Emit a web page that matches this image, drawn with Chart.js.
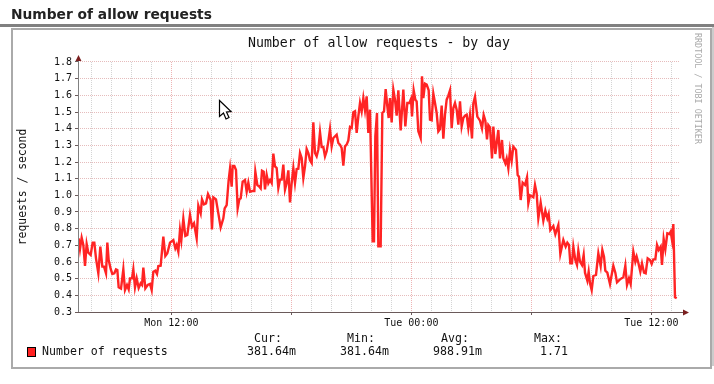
<!DOCTYPE html>
<html>
<head>
<meta charset="utf-8">
<style>
html,body{margin:0;padding:0;background:#fff;width:714px;height:384px;overflow:hidden}
#wrap{position:relative;width:714px;height:384px}
canvas{position:absolute;left:0;top:0}
.t{position:absolute;white-space:pre;font-family:"DejaVu Sans Mono",monospace;color:#111;line-height:1}
#head{left:11px;top:7px;font:bold 13.8px "DejaVu Sans",sans-serif;color:#222;line-height:1.1}
#rule{position:absolute;left:0;top:24px;width:714px;height:3px;background:#808080}
#frame{position:absolute;left:11px;top:28px;width:697px;height:337px;border:2px solid #aaa}
#edge{position:absolute;left:712px;top:27px;width:2px;height:339px;background:#ccc}
#wm{position:absolute;left:694px;top:33px;writing-mode:vertical-rl;font:8.4px "DejaVu Sans Mono",monospace;color:#aaa;white-space:pre;line-height:1}
#sw{position:absolute;left:27px;top:347px;width:7px;height:8px;border:1px solid #000;background:#ff2020}
.s{font-size:11.6px}
</style>
</head>
<body>
<div id="wrap">
<div id="rule"></div><div id="frame"></div><div id="edge"></div>
<canvas id="c" width="714" height="384"></canvas>
<div class="t" id="head">Number of allow requests</div>
<div id="wm">RRDTOOL / TOBI OETIKER</div>
<div id="sw"></div>
<div class="t s" style="left:42px;top:346px">Number of requests</div>
<div class="t s" style="left:254px;top:333px">Cur:</div>
<div class="t s" style="left:347px;top:333px">Min:</div>
<div class="t s" style="left:441px;top:333px">Avg:</div>
<div class="t s" style="left:534px;top:333px">Max:</div>
<div class="t s" style="left:247px;top:346px">381.64m</div>
<div class="t s" style="left:340px;top:346px">381.64m</div>
<div class="t s" style="left:433px;top:346px">988.91m</div>
<div class="t s" style="left:540px;top:346px">1.71</div>
<svg style="position:absolute;left:215px;top:98px" width="20" height="26"><path d="M4.5 2.5 L4.5 18.5 L8.5 15 L11 21 L14 19.5 L11.5 14 L16 13.5 Z" fill="#fff" stroke="#000" stroke-width="1.2"/></svg>
</div>
<script src="https://cdn.jsdelivr.net/npm/chart.js@4"></script>
<script>
const chartTitle = "Number of allow requests - by day";
const yAxisTitle = "requests / second";
const seriesName = "Number of requests";
const tickLabels = {720:"Mon 12:00",1440:"Tue 00:00",2160:"Tue 12:00"};
const minutes = [442,446,451,456,461,466,471,478,484,489,494,501,507,513,518,524,528,532,538,543,549,554,558,562,569,576,581,587,592,596,602,606,611,616,622,628,632,636,642,649,656,661,666,672,677,681,688,696,702,708,716,726,732,736,741,746,750,756,762,768,776,782,788,796,801,808,812,818,824,830,838,842,846,854,861,868,876,880,886,892,896,901,904,909,914,919,924,928,934,941,946,951,956,963,969,972,978,984,988,992,997,1001,1006,1011,1016,1021,1026,1031,1036,1041,1046,1051,1056,1061,1066,1071,1076,1081,1086,1091,1096,1101,1106,1111,1116,1121,1126,1131,1136,1141,1146,1151,1156,1161,1166,1171,1176,1181,1186,1191,1196,1201,1206,1216,1221,1226,1231,1236,1241,1246,1251,1256,1261,1266,1271,1276,1281,1286,1291,1296,1301,1306,1311,1316,1324,1328,1332,1337,1341,1348,1353,1358,1363,1368,1372,1376,1381,1386,1391,1396,1401,1408,1416,1422,1428,1434,1439,1442,1447,1452,1456,1461,1468,1472,1476,1481,1486,1492,1496,1501,1506,1511,1516,1521,1526,1531,1536,1541,1546,1551,1556,1561,1566,1571,1576,1581,1586,1591,1596,1601,1606,1611,1616,1622,1626,1631,1638,1646,1652,1657,1662,1667,1671,1676,1682,1686,1692,1701,1706,1712,1716,1722,1726,1731,1736,1741,1746,1754,1759,1763,1768,1774,1781,1787,1791,1796,1806,1811,1816,1821,1828,1836,1842,1848,1852,1857,1866,1872,1881,1887,1896,1903,1908,1913,1917,1922,1926,1932,1937,1941,1946,1952,1957,1961,1968,1972,1976,1981,1986,1994,2001,2008,2013,2018,2022,2028,2036,2046,2052,2057,2066,2076,2082,2087,2093,2098,2106,2112,2116,2121,2127,2132,2138,2143,2149,2156,2161,2166,2172,2177,2182,2188,2192,2197,2202,2208,2214,2218,2222,2226,2231,2236];
const requests = [.742,.678,.746,.702,.576,.708,.656,.642,.716,.716,.622,.532,.692,.572,.572,.532,.716,.612,.558,.528,.532,.556,.552,.448,.44,.556,.432,.462,.436,.502,.502,.556,.448,.502,.444,.472,.462,.566,.442,.462,.468,.432,.542,.548,.528,.576,.578,.752,.636,.652,.716,.732,.682,.702,.662,.792,.732,.86,.756,.762,.882,.812,.832,.742,.938,.892,.976,.946,.952,1.008,.972,.796,.988,.976,.892,.808,.862,.922,.942,1.092,1.16,1.052,1.176,1.176,1.152,.922,.976,.982,1.082,1.092,1.022,1.076,1.022,1.026,1.026,1.142,1.062,1.052,1.042,1.148,1.142,1.036,1.122,1.072,1.092,1.074,1.25,1.174,1.164,1.044,1.094,1.094,1.184,1.034,1.074,1.15,.958,1.074,1.164,1.074,1.158,1.16,1.254,1.224,1.104,1.174,1.278,1.254,1.21,1.194,1.438,1.254,1.234,1.274,1.378,1.29,1.29,1.234,1.264,1.324,1.398,1.294,1.344,1.364,1.314,1.304,1.284,1.178,1.294,1.304,1.33,1.41,1.404,1.498,1.504,1.374,1.474,1.554,1.504,1.584,1.51,1.594,1.374,1.514,.724,.724,1.354,1.494,.694,.694,1.494,1.504,1.638,1.534,1.464,1.584,1.438,1.634,1.574,1.478,1.63,1.39,1.634,1.414,1.554,1.554,1.578,1.474,1.63,1.574,1.564,1.384,1.344,1.714,1.584,1.67,1.664,1.63,1.454,1.45,1.61,1.554,1.494,1.384,1.398,1.538,1.34,1.484,1.574,1.598,1.63,1.404,1.524,1.554,1.514,1.424,1.564,1.414,1.464,1.478,1.484,1.404,1.482,1.342,1.552,1.592,1.472,1.448,1.402,1.482,1.448,1.336,1.422,1.408,1.222,1.412,1.248,1.392,1.222,1.332,1.222,1.192,1.222,1.162,1.272,1.208,1.292,1.272,1.122,1.112,.972,1.076,1.062,1.108,.952,1.0,.988,1.062,1.012,.862,.956,.848,.908,.862,.888,.792,.816,.766,.822,.648,.732,.692,.716,.702,.592,.592,.692,.612,.582,.668,.602,.582,.642,.536,.488,.542,.472,.432,.516,.522,.652,.576,.672,.632,.548,.536,.468,.578,.536,.478,.496,.508,.578,.462,.502,.468,.662,.602,.632,.596,.542,.592,.536,.532,.622,.612,.588,.616,.616,.702,.672,.692,.582,.738,.676,.772,.768,.782,.732,.828,.388,.382];

const axisColor = "#6a5a5a";
const arrows = {
  id: "arrows",
  afterDraw(chart) {
    const {ctx, chartArea: a} = chart;
    ctx.save();
    ctx.lineWidth = 1;
    ctx.strokeStyle = "#808080";
    ctx.beginPath();
    ctx.moveTo(a.left + .5, a.bottom); ctx.lineTo(a.left + .5, a.top - 4);
    ctx.stroke();
    ctx.strokeStyle = axisColor;
    ctx.beginPath();
    ctx.moveTo(a.left, a.bottom + .5); ctx.lineTo(a.right + 4, a.bottom + .5);
    ctx.stroke();
    ctx.fillStyle = "#7a1f1f";
    ctx.beginPath();
    ctx.moveTo(a.left - 2.5, a.top - 1); ctx.lineTo(a.left + 3.5, a.top - 1); ctx.lineTo(a.left + .5, a.top - 7); ctx.closePath();
    ctx.moveTo(a.right + 3, a.bottom - 2.5); ctx.lineTo(a.right + 3, a.bottom + 3.5); ctx.lineTo(a.right + 9, a.bottom + .5); ctx.closePath();
    ctx.fill();
    ctx.restore();
  }
};

new Chart(document.getElementById("c"), {
  type: "line",
  data: { datasets: [{
    label: seriesName,
    data: minutes.map((m, i) => ({x: m, y: requests[i]})),
    borderColor: "#ff2424",
    borderWidth: 2.4,
    pointRadius: 0,
    tension: 0
  }]},
  plugins: [arrows],
  options: {
    responsive: false,
    animation: false,
    events: [],
    layout: { padding: { left: 0, right: 34, top: 0, bottom: 47 } },
    plugins: {
      legend: { display: false },
      tooltip: { enabled: false },
      title: {
        display: true, text: chartTitle, fullSize: false, color: "#111",
        font: { family: "DejaVu Sans Mono", size: 13.2, weight: "normal", lineHeight: 1.2 },
        padding: { top: 36, bottom: 10.16 }
      }
    },
    scales: {
      x: {
        type: "linear", min: 440, max: 2246,
        afterFit(s) { s.height = 25; },
        border: { display: false, dash: [1, 1] },
        grid: {
          color: c => c.tick && c.tick.value % 360 === 0 ? "#eeb4b4" : "#d4d4d4",
          tickColor: c => c.tick && c.tick.value % 360 === 0 ? axisColor : "rgba(0,0,0,0)",
          tickBorderDash: [], tickLength: 3
        },
        ticks: {
          stepSize: 60, includeBounds: false, autoSkip: false, maxRotation: 0, padding: 2,
          color: "#111", font: { family: "DejaVu Sans Mono", size: 10 },
          callback: v => tickLabels[v] || ""
        }
      },
      y: {
        min: 0.3, max: 1.8,
        afterFit(s) { s.width = 78; },
        border: { display: false, dash: [1, 1] },
        title: {
          display: true, text: yAxisTitle, color: "#111",
          font: { family: "DejaVu Sans Mono", size: 11.4 }, padding: { top: 16, bottom: 0 }
        },
        grid: { color: "#e6bcbc", tickColor: axisColor, tickBorderDash: [], tickLength: 3 },
        ticks: {
          stepSize: 0.1, includeBounds: false, autoSkip: false, padding: 3,
          color: "#111", font: { family: "DejaVu Sans Mono", size: 10 },
          callback: v => Number(v).toFixed(1)
        }
      }
    }
  }
});
</script>
</body>
</html>
